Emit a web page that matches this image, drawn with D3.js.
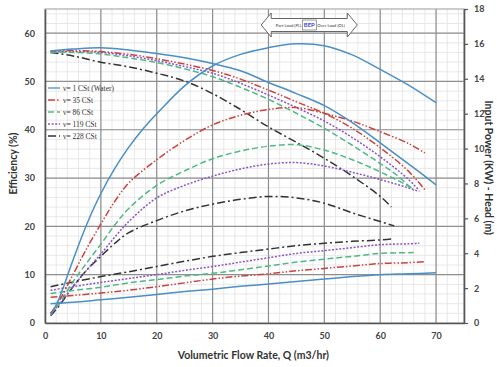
<!DOCTYPE html>
<html lang="en">
<head>
<meta charset="UTF-8">
<script src="https://d3js.org/d3.v7.min.js"></script>
<title>Pump performance vs viscosity</title>
<style>
    body { margin: 0; background: #fff; }
    svg text { font-family: Lato, "Open Sans", sans-serif; }
</style>
</head>
<body>
<div id="chart"></div>
<script>
// legend names (kinematic viscosity)
const viscosities = ["1 CSt (Water)", "35 CSt", "86 CSt", "119 CSt", "228 CSt"];

// efficiency (%) vs flow Q (m3/hr)
const effQWater = [1, 2.5, 5, 7.5, 10, 12.5, 15, 17.5, 20, 25, 30, 35, 40, 45, 50, 55, 60, 65, 70];
const effWater  = [1.5, 5, 13, 20.5, 26.8, 32, 36.4, 40.1, 43.3, 49.1, 53.2, 55.6, 57, 57.8, 57.4, 55.5, 52.5, 49.3, 45.6];
const effQ35 = [1, 2.5, 5, 7.5, 10, 12.5, 15, 20, 25, 30, 35, 40, 45, 50, 55, 60, 65, 68];
const eff35  = [2, 4.5, 10, 15.5, 20.5, 25.2, 29, 33.8, 37.8, 41, 43, 44.2, 44.6, 43.4, 41.8, 39.6, 37.2, 35.2];
const effQ86 = [1, 2.5, 5, 7.5, 10, 12.5, 15, 20, 25, 30, 35, 40, 45, 50, 55, 60, 66];
const eff86  = [2, 4, 8.5, 12.5, 16.3, 20.3, 23.7, 28.5, 31.5, 34, 35.6, 36.6, 36.9, 35.8, 33.8, 31.3, 27.8];
const effQ119 = [1, 2.5, 5, 7.5, 10, 12.5, 15, 20, 25, 30, 35, 40, 45, 50, 55, 60, 65, 67];
const eff119  = [2, 3.8, 7.5, 11, 14.3, 17.8, 21, 25.9, 28.5, 30.4, 31.9, 32.9, 33.2, 32.5, 31.2, 29.7, 28, 27.2];
const effQ228 = [1, 2.5, 5, 7.5, 10, 12.5, 15, 20, 25, 30, 35, 40, 45, 50, 55, 60, 62.5];
const eff228  = [1.5, 3.5, 7.5, 11, 13.8, 16.5, 18.7, 21.2, 23.2, 24.6, 25.6, 26.2, 25.9, 24.8, 22.8, 21, 20.1];

// flow points for power (kW) and head (m)
const qWater = [1, 5, 10, 15, 20, 25, 30, 35, 40, 45, 50, 55, 60, 65, 70];
const q35    = [1, 5, 10, 15, 20, 25, 30, 35, 40, 45, 50, 55, 60, 65, 68];
const q86    = [1, 5, 10, 15, 20, 25, 30, 35, 40, 45, 50, 55, 60, 63, 66];
const q119   = [1, 5, 10, 15, 20, 25, 30, 35, 40, 45, 50, 55, 60, 65, 67];
const q228   = [1, 5, 10, 15, 20, 25, 30, 35, 40, 45, 50, 55, 60, 62];

const powerWater = [1.11, 1.19, 1.33, 1.47, 1.63, 1.80, 1.94, 2.10, 2.24, 2.38, 2.52, 2.66, 2.77, 2.82, 2.88];
const power35    = [1.47, 1.58, 1.72, 1.88, 2.08, 2.30, 2.52, 2.69, 2.82, 2.99, 3.13, 3.27, 3.41, 3.46, 3.52];
const power86    = [1.69, 1.86, 2.05, 2.30, 2.49, 2.69, 2.85, 3.05, 3.27, 3.49, 3.66, 3.82, 3.99, 4.02, 4.04];
const power119   = [1.88, 2.08, 2.33, 2.55, 2.77, 3.02, 3.24, 3.49, 3.74, 3.99, 4.15, 4.32, 4.49, 4.54, 4.57];
const power228   = [2.08, 2.35, 2.66, 2.94, 3.24, 3.54, 3.82, 4.04, 4.24, 4.43, 4.57, 4.68, 4.76, 4.82];

const headWater = [15.59, 15.70, 15.78, 15.65, 15.45, 15.20, 14.87, 14.46, 13.79, 13.15, 12.46, 11.49, 10.33, 9.14, 7.92];
const head35    = [15.59, 15.62, 15.56, 15.40, 15.15, 14.84, 14.48, 13.98, 13.35, 12.68, 12.02, 11.16, 10.05, 8.72, 7.64];
const head86    = [15.51, 15.51, 15.42, 15.20, 14.93, 14.57, 14.12, 13.51, 12.82, 12.02, 11.16, 10.19, 9.14, 8.47, 7.59];
const head119   = [15.56, 15.56, 15.51, 15.31, 15.04, 14.70, 14.32, 13.74, 13.07, 12.35, 11.58, 10.63, 9.53, 8.25, 7.59];
const head228   = [15.51, 15.31, 14.95, 14.68, 14.32, 13.87, 13.15, 12.24, 11.24, 10.36, 9.44, 8.42, 7.26, 6.65];

const xTicks = [0, 10, 20, 30, 40, 50, 60, 70];
const leftTicks = [0, 10, 20, 30, 40, 50, 60];
const rightTicks = [0, 2, 4, 6, 8, 10, 12, 14, 16, 18];
const bepQ = 47.3;

// styles, same order as viscosities
const colors = ["#4a8fc6", "#c9433f", "#4dba86", "#8b55c6", "#333333"];
const dashes = [null, "7,2,1.5,2,1.5,2", "6,3", "2,1.6", "8,3,2,3"];

const zip = (a, b) => a.map((v, i) => [v, b[i]]);
const series = [
    { eff: zip(effQWater, effWater), power: zip(qWater, powerWater), head: zip(qWater, headWater) },
    { eff: zip(effQ35, eff35),       power: zip(q35, power35),       head: zip(q35, head35) },
    { eff: zip(effQ86, eff86),       power: zip(q86, power86),       head: zip(q86, head86) },
    { eff: zip(effQ119, eff119),     power: zip(q119, power119),     head: zip(q119, head119) },
    { eff: zip(effQ228, eff228),     power: zip(q228, power228),     head: zip(q228, head228) }
];

const W = 497, H = 367;
const margin = { top: 9, right: 33, bottom: 44, left: 45 };
const w = W - margin.left - margin.right;
const h = H - margin.top - margin.bottom;

const svg = d3.select("#chart").append("svg")
    .attr("width", W).attr("height", H);
const g = svg.append("g").attr("transform", `translate(${margin.left},${margin.top})`);

const x = d3.scaleLinear().domain([0, 75]).range([0, w]);
const yL = d3.scaleLinear().domain([0, 65]).range([h, 0]);
const yR = d3.scaleLinear().domain([0, 18]).range([h, 0]);

// minor grid
g.append("g").selectAll("line").data(d3.range(2, 75, 2)).join("line")
    .attr("x1", d => x(d)).attr("x2", d => x(d)).attr("y1", 0).attr("y2", h)
    .attr("stroke", "#e2e2e2").attr("stroke-width", 0.8);
g.append("g").selectAll("line").data(d3.range(2, 65, 2)).join("line")
    .attr("y1", d => yL(d)).attr("y2", d => yL(d)).attr("x1", 0).attr("x2", w)
    .attr("stroke", "#e2e2e2").attr("stroke-width", 0.8);
// major grid
g.append("g").selectAll("line").data(xTicks.slice(1)).join("line")
    .attr("x1", d => x(d)).attr("x2", d => x(d)).attr("y1", 0).attr("y2", h)
    .attr("stroke", "#8f8f8f").attr("stroke-width", 1.2);
g.append("g").selectAll("line").data(leftTicks.slice(1)).join("line")
    .attr("y1", d => yL(d)).attr("y2", d => yL(d)).attr("x1", 0).attr("x2", w)
    .attr("stroke", "#8f8f8f").attr("stroke-width", 1.2);
g.append("rect").attr("width", w).attr("height", h)
    .attr("fill", "none").attr("stroke", "#9a9a9a");

// axes
const axisFont = sel => sel.selectAll("text")
    .attr("font-size", 9).attr("font-weight", "bold").attr("fill", "#444");

g.append("g").attr("transform", `translate(0,${h})`)
    .call(d3.axisBottom(x).tickValues(xTicks).tickSize(0).tickPadding(10))
    .call(a => a.select(".domain").attr("stroke", "#555").attr("stroke-width", 1.6))
    .call(axisFont);
g.append("g")
    .call(d3.axisLeft(yL).tickValues(leftTicks).tickSize(0).tickPadding(10))
    .call(a => a.select(".domain").attr("stroke", "#555").attr("stroke-width", 1.6))
    .call(axisFont);
g.append("g").attr("transform", `translate(${w},0)`)
    .call(d3.axisRight(yR).tickValues(rightTicks).tickSize(4).tickSizeOuter(0).tickPadding(6))
    .call(a => a.select(".domain").attr("stroke", "#555").attr("stroke-width", 1.6))
    .call(a => a.selectAll(".tick line").attr("stroke", "#555").attr("stroke-width", 1.2))
    .call(axisFont);

// axis titles
svg.append("text")
    .attr("transform", `translate(17,${margin.top + yL(33)}) rotate(-90)`)
    .attr("text-anchor", "middle").attr("font-size", 10.5).attr("font-weight", "bold").attr("fill", "#333")
    .text("Efficiency (%)");
svg.append("text")
    .attr("transform", `translate(485,${margin.top + yR(8.9)}) rotate(90)`)
    .attr("text-anchor", "middle").attr("font-size", 10.5).attr("font-weight", "bold").attr("fill", "#333")
    .text("Input Power (KW) - Head (m)");
svg.append("text")
    .attr("x", margin.left + x(37.3)).attr("y", 359)
    .attr("text-anchor", "middle").attr("font-size", 10.5).attr("font-weight", "bold").attr("fill", "#333")
    .text("Volumetric Flow Rate, Q (m3/hr)");

// curves
const lineL = d3.line().x(d => x(d[0])).y(d => yL(d[1])).curve(d3.curveCatmullRom.alpha(0.5));
const lineR = d3.line().x(d => x(d[0])).y(d => yR(d[1])).curve(d3.curveCatmullRom.alpha(0.5));

const order = [4, 3, 2, 1, 0];
order.forEach(i => {
    const s = series[i];
    [[lineL, s.eff], [lineR, s.power], [lineR, s.head]].forEach(([gen, pts]) => {
        g.append("path").datum(pts)
            .attr("d", gen)
            .attr("fill", "none")
            .attr("stroke", colors[i])
            .attr("stroke-width", 1.5)
            .attr("stroke-dasharray", dashes[i]);
    });
});

// legend
const legend = g.append("g").attr("transform", "translate(3,79)");
const rows = legend.selectAll("g").data(viscosities).join("g")
    .attr("transform", (d, i) => `translate(0,${i * 12})`);
rows.append("line")
    .attr("x1", 0).attr("x2", 12)
    .attr("stroke", (d, i) => colors[i])
    .attr("stroke-width", 1.3)
    .attr("stroke-dasharray", (d, i) => dashes[i]);
rows.append("text")
    .attr("x", 15).attr("y", 2.5)
    .attr("font-size", 7.5).attr("fill", "#333")
    .style("font-family", "'Liberation Serif', serif")
    .text(d => "\u03bd= " + d);

// PL / BEP / OL arrow
const ax = x(bepQ), ay = 16, half = 8.6;
const ax0 = x(bepQ - half), ax1 = x(bepQ + half);
const hw = 12, sh = 6.5, hl = 10;
const arrowPath = [
    [ax0, ay], [ax0 + hl, ay - hw], [ax0 + hl, ay - sh], [ax1 - hl, ay - sh], [ax1 - hl, ay - hw],
    [ax1, ay], [ax1 - hl, ay + hw], [ax1 - hl, ay + sh], [ax0 + hl, ay + sh], [ax0 + hl, ay + hw]
];
const arrow = g.append("g");
arrow.append("path")
    .attr("d", d3.line()(arrowPath) + "Z")
    .attr("fill", "#fff").attr("stroke", "#666").attr("stroke-width", 1);
arrow.append("rect")
    .attr("x", ax - 7).attr("y", ay - 5).attr("width", 14).attr("height", 10)
    .attr("fill", "#fff").attr("stroke", "#555").attr("stroke-width", 0.6);
arrow.append("text")
    .attr("x", ax).attr("y", ay + 2.2).attr("text-anchor", "middle")
    .attr("font-size", 5.8).attr("font-weight", "bold").attr("fill", "#3344cc")
    .text("BEP");
arrow.append("text")
    .attr("x", ax - 8).attr("y", ay + 1.6).attr("text-anchor", "end")
    .attr("font-size", 4.2).attr("fill", "#333")
    .text("Part Load (PL)");
arrow.append("text")
    .attr("x", ax + 8).attr("y", ay + 1.6).attr("text-anchor", "start")
    .attr("font-size", 4.2).attr("fill", "#333")
    .text("Over Load (OL)");
</script>
</body>
</html>
